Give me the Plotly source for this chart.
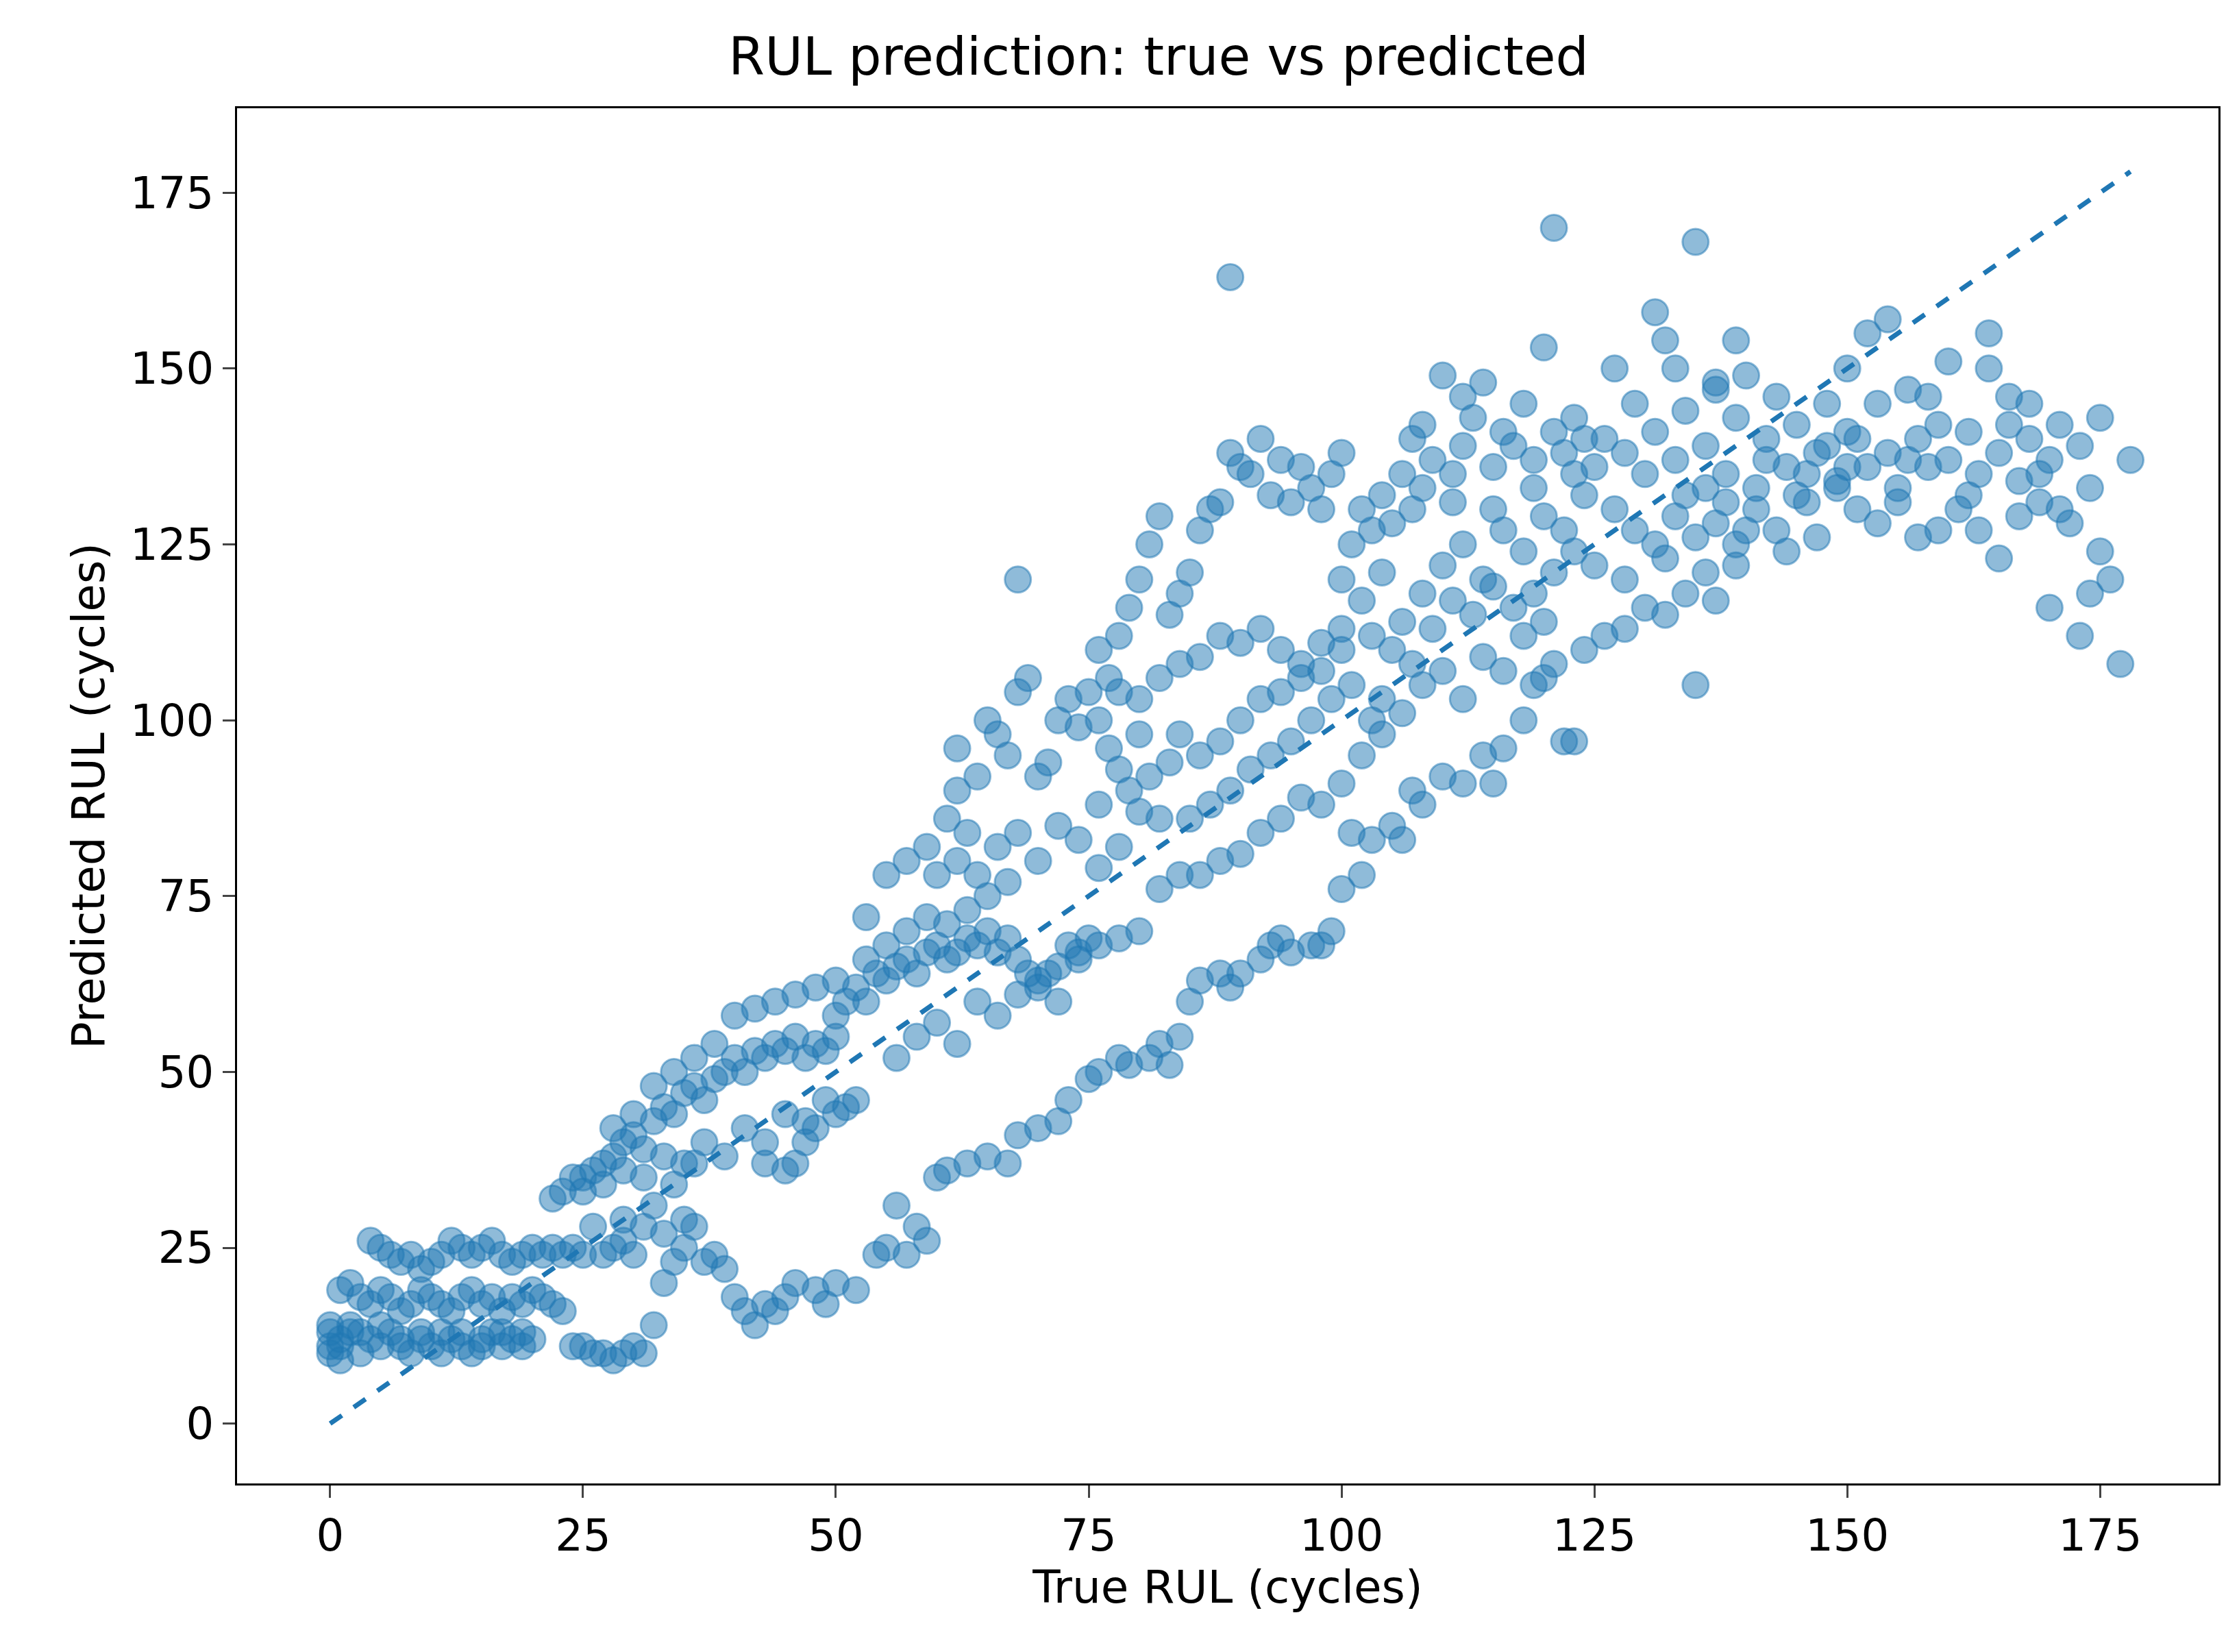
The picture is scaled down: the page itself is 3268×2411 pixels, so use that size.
import plotly.graph_objects as go

# points (true RUL, predicted RUL)
points = [
    (0,11),(1,12),(2,13),(3,10),(4,12),(5,11),(6,13),(7,12),(8,10),(9,12),(10,11),(11,13),(12,12),(13,11),(14,10),(15,12),(16,13),(17,11),(18,12),(19,11),(20,12),
    (0,10),(0,13),(0,14),(1,9),(1,11),(2,14),(3,13),(5,14),(7,11),(9,13),(11,10),(13,13),(15,11),(17,13),(19,13),
    (1,19),(2,20),(3,18),(4,17),(5,19),(6,18),(7,16),(8,17),(9,19),(10,18),(11,17),(12,16),(13,18),(14,19),(15,17),(16,18),(17,16),(18,18),(19,17),(20,19),(21,18),(22,17),(23,16),
    (4,26),(5,25),(6,24),(7,23),(8,24),(9,22),(10,23),(11,24),(12,26),(13,25),(14,24),(15,25),(16,26),(17,24),(18,23),(19,24),(20,25),(21,24),(22,25),(23,24),(24,25),(25,24),
    (24,11),(25,11),(26,10),(27,10),(28,9),(29,10),(30,11),(31,10),(32,14),(28,25),(29,26),(30,24),
    (25,35),(26,36),(27,37),(28,38),(29,40),(30,41),(31,39),(32,43),(33,45),(34,44),(35,47),(36,48),(37,46),(38,49),(39,50),(40,52),(41,50),(42,53),(43,52),(44,54),(45,53),(46,55),(47,52),(48,54),(49,53),(50,55),
    (25,33),(27,34),(29,36),(31,35),(33,38),(35,37),(37,40),(39,38),(41,42),(43,40),(45,44),(47,43),(49,46),
    (28,42),(30,44),(32,48),(34,50),(36,52),(38,54),(40,58),(42,59),(44,60),(46,61),(48,62),(50,63),
    (33,20),(34,23),(35,29),(36,28),(37,23),(38,24),(39,22),(40,18),(41,16),(42,14),(43,17),(44,16),(45,18),(46,20),(48,19),(49,17),(50,20),(52,19),(54,24),(55,25),(56,31),(57,24),(58,28),(59,26),
    (43,37),(45,36),(46,37),(47,40),(50,44),(51,45),(52,46),(48,42),(22,32),(23,33),(24,35),(26,28),(27,24),(29,29),(31,28),(33,27),(35,25),(32,31),(34,34),(36,37),
    (50,58),(51,60),(52,62),(53,60),(54,64),(55,63),(56,65),(57,66),(58,64),(59,67),(60,68),(61,66),(62,67),(63,69),(64,68),(65,70),(66,67),(67,69),(68,66),(69,64),(70,63),(71,64),(72,65),(73,68),(74,67),(75,69),
    (53,66),(55,68),(57,70),(59,72),(61,71),(63,73),(65,75),(67,77),(53,72),(55,78),(57,80),(59,82),(61,86),(62,90),(63,84),(64,92),(65,100),(66,98),(67,95),(68,104),(69,106),(70,92),(71,94),(72,100),(73,103),(74,99),(75,104),(68,120),(62,96),
    (60,78),(62,80),(64,78),(66,82),(68,84),(70,80),(72,85),(74,83),(76,88),(77,96),(78,93),(80,98),
    (56,52),(58,55),(60,57),(62,54),(64,60),(66,58),(68,61),(70,62),(72,60),(74,66),(76,68),(78,69),(80,70),(82,76),(76,79),(78,82),(80,87),(82,86),
    (60,35),(61,36),(63,37),(65,38),(67,37),(68,41),(70,42),(72,43),(73,46),(75,49),(76,50),(78,52),(79,51),(81,52),(82,54),(83,51),(84,55),(85,60),(86,63),(88,64),(89,62),(90,64),(92,66),(93,68),(94,69),(95,67),(97,68),(98,68),(99,70),
    (100,76),(101,84),(102,78),(103,83),(105,85),(106,83),(107,90),(108,88),(110,92),(112,91),(114,95),(115,91),(116,96),(118,100),(120,106),(121,108),(122,97),(123,97),(124,110),(126,112),(128,113),(130,116),(132,115),(134,118),(135,105),(137,117),(139,122),
    (76,110),(77,106),(78,112),(79,116),(80,120),(81,125),(82,129),(83,115),(84,118),(85,121),(86,127),(87,130),(88,131),(89,138),(90,136),(91,135),(92,140),(93,132),(94,137),(95,131),(96,136),(97,133),(98,130),(99,135),(100,138),(89,163),
    (80,103),(82,106),(84,108),(86,109),(88,112),(90,111),(92,113),(94,110),(96,108),(98,111),(100,113),
    (84,98),(86,95),(88,97),(90,100),(92,103),(94,104),(96,106),(98,107),(100,110),
    (85,86),(87,88),(89,90),(91,93),(93,95),(95,97),(97,100),(99,103),(101,105),(103,100),
    (84,78),(86,78),(88,80),(90,81),(92,84),(94,86),(96,89),(98,88),(100,91),(102,95),(104,98),(79,90),(81,92),(83,94),(76,100),(78,104),
    (100,120),(101,125),(102,130),(103,127),(104,132),(105,128),(106,135),(107,140),(108,133),(109,137),(110,149),(111,135),(112,139),(113,143),(114,148),(115,136),(116,141),(117,139),(118,145),(119,137),(120,153),(121,141),(122,138),(123,143),(124,140),(125,136),
    (102,117),(104,121),(106,114),(108,118),(110,122),(112,125),(114,120),(116,127),(118,124),(120,129),(122,127),(124,132),
    (103,112),(105,110),(107,108),(109,113),(111,117),(113,115),(115,119),(117,116),(119,118),(121,121),(123,124),(125,122),
    (104,103),(106,101),(108,105),(110,107),(112,103),(114,109),(116,107),(118,112),(120,114),(119,105),(107,130),(111,131),(115,130),(119,133),(123,135),(121,170),(108,142),(112,146),
    (126,140),(127,150),(128,138),(129,145),(130,135),(131,141),(132,154),(133,137),(134,144),(135,168),(136,139),(137,147),(138,135),(139,143),(140,149),(141,133),(142,140),(143,146),(144,136),(145,142),(146,131),(147,138),(148,145),(149,134),(150,141),
    (131,158),(133,150),(137,148),(139,154),(127,130),(129,127),(131,125),(133,129),(135,126),(137,128),(139,125),(141,130),(143,127),(145,132),(147,126),(149,133),
    (128,120),(132,123),(136,121),(140,127),(144,124),(146,135),(148,139),(150,136),(136,133),(138,131),(142,137),(134,132),
    (151,140),(152,136),(153,145),(154,138),(155,133),(156,147),(157,140),(158,136),(159,142),(160,137),(161,130),(162,141),(163,135),(164,150),(165,138),(166,142),(167,134),(168,140),(169,131),(170,137),(171,142),(172,128),(173,139),(174,133),(175,124),(176,120),(177,108),(178,137),
    (150,150),(152,155),(154,157),(156,137),(158,146),(160,151),(162,132),(164,155),(166,146),(168,145),(170,116),(173,112),(175,143),
    (151,130),(153,128),(155,131),(157,126),(159,127),(163,127),(165,123),(167,129),(169,135),(171,130),(174,118),
]
true_rul = [p[0] for p in points]
pred_rul = [p[1] for p in points]
ideal = [0, 178]

blue = "#1f77b4"
font = "DejaVu Sans"

fig = go.Figure()
fig.add_trace(go.Scatter(x=true_rul, y=pred_rul, mode="markers",
                         marker=dict(size=38, color="rgba(31,119,180,0.5)",
                                     line=dict(width=3, color="rgba(31,119,180,0.5)"))))
fig.add_trace(go.Scatter(x=ideal, y=ideal, mode="lines",
                         line=dict(color=blue, width=7, dash="dash")))

axis = dict(showgrid=False, zeroline=False, showline=True, mirror=True,
            linecolor="black", linewidth=3, ticks="outside", ticklen=18, tickwidth=3,
            tickfont=dict(size=64, color="black", family=font))
fig.update_layout(
    width=3268, height=2411, showlegend=False,
    paper_bgcolor="white", plot_bgcolor="white",
    margin=dict(l=338, r=38, t=150, b=254),
    font=dict(family=font, color="black"),
    title=dict(text="RUL prediction: true vs predicted", x=0.515, xanchor="center",
               y=0.98, yanchor="top", font=dict(size=76, family=font)),
    xaxis=dict(axis, range=[-9.2, 186.7], tickvals=[0, 25, 50, 75, 100, 125, 150, 175],
               title=dict(text="True RUL (cycles)", font=dict(size=66, family=font), standoff=16)),
    yaxis=dict(axis, range=[-8.5, 187], tickvals=[0, 25, 50, 75, 100, 125, 150, 175],
               title=dict(text="Predicted RUL (cycles)", font=dict(size=66, family=font), standoff=16)),
)
fig.write_html("out.html")
